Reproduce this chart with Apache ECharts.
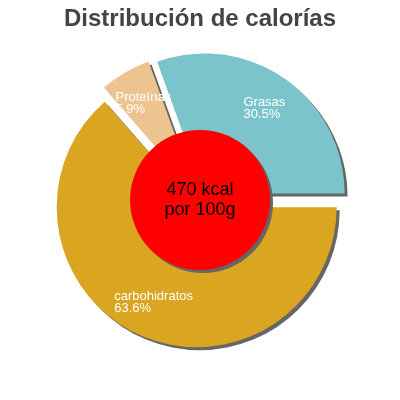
<!DOCTYPE html>
<html>
<head>
<meta charset="utf-8">
<script src="https://cdn.jsdelivr.net/npm/echarts@6/dist/echarts.min.js"></script>
<style>
html,body{margin:0;padding:0;background:#fff;}
#chart{width:400px;height:400px;}
</style>
</head>
<body>
<div id="chart"></div>
<script>
const titleText = 'Distribución de calorías';
const categories = ['carbohidratos', 'Proteínas', 'Grasas'];
const values = [63.6, 5.9, 30.5];
const colors = ['#DAA520', '#EDC490', '#7CC4CC'];
const centerLabel = ['470 kcal', 'por 100g'];

const chart = echarts.init(document.getElementById('chart'), null, {renderer: 'canvas'});
const shadow = {shadowColor: '#666', shadowBlur: 0, shadowOffsetX: 3, shadowOffsetY: 3};

chart.setOption({
  animation: false,
  backgroundColor: '#fff',
  title: {
    text: titleText,
    left: 'center',
    top: 2,
    textStyle: {fontFamily: 'Liberation Sans, Arial, sans-serif', fontSize: 24, fontWeight: 'bold', color: '#444'}
  },
  series: [
    {
      type: 'pie',
      center: [200, 200],
      radius: [62, 140],
      startAngle: 0,
      clockwise: true,
      selectedMode: 'multiple',
      selectedOffset: 8,
      silent: true,
      emphasis: {disabled: true},
      itemStyle: Object.assign({}, shadow),
      label: {
        position: 'inside',
        formatter: '{a|{b}}\n{a|{c}%}',
        color: '#fff',
        fontFamily: 'Liberation Sans, Arial, sans-serif',
        fontSize: 13,
        lineHeight: 12,
        rich: {a: {align: 'left', color: '#fff', fontSize: 13, lineHeight: 12, fontFamily: 'Liberation Sans, Arial, sans-serif'}}
      },
      labelLine: {show: false},
      data: categories.map((c, i) => ({name: c, value: values[i], selected: true, itemStyle: {color: colors[i]}}))
    },
    {
      type: 'pie',
      center: [200, 200],
      radius: [0, 70],
      silent: true,
      z: 5,
      emphasis: {disabled: true},
      itemStyle: Object.assign({color: '#FF0000'}, shadow),
      label: {
        position: 'center',
        formatter: centerLabel.join('\n'),
        color: '#000',
        fontFamily: 'Liberation Sans, Arial, sans-serif',
        fontSize: 18,
        lineHeight: 20
      },
      labelLine: {show: false},
      data: [{name: 'kcal', value: 1}]
    }
  ]
});
</script>
</body>
</html>
